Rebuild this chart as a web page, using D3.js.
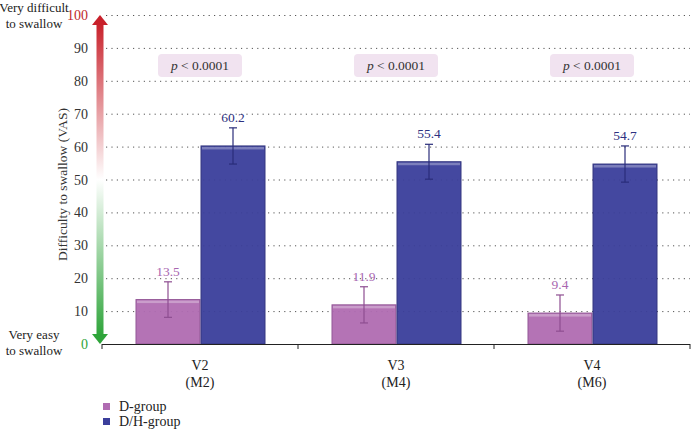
<!DOCTYPE html>
<html><head><meta charset="utf-8">
<script src="https://cdn.jsdelivr.net/npm/d3@7"></script>
<style>body{margin:0;background:#fff}svg{display:block}text{font-family:"Liberation Serif","Times New Roman",Tinos,serif}</style>
</head><body><svg id="c" width="691" height="440"></svg>
<script>
const categories = ["V2", "V3", "V4"];
const subLabels = ["(M2)", "(M4)", "(M6)"];
const series = ["D-group", "D/H-group"];
const dGroup = [13.5, 11.9, 9.4];
const dhGroup = [60.2, 55.4, 54.7];
const dErr = [5.4, 5.5, 5.5];
const dhErr = [5.5, 5.3, 5.5];
const pLabels = ["p < 0.0001", "p < 0.0001", "p < 0.0001"];
const yTicks = [0,10,20,30,40,50,60,70,80,90,100];

const svg = d3.select("#c");
const L = 102, R = 690, T = 15, B = 344;
const x = d3.scaleBand().domain(categories).range([L, R]);
const y = d3.scaleLinear().domain([0, 100]).range([B, T]);
const barW = 64;
const colD = "#b06cb2", colDH = "#3b3f9b";
const colDs = "#8e4e91", colDHs = "#2a2d7a";
const labD = "#a866b0", labDH = "#2c3080";

const defs = svg.append("defs");
const ag = defs.append("linearGradient").attr("id","arr").attr("x1",0).attr("y1",0).attr("x2",0).attr("y2",1);
ag.append("stop").attr("offset","0%").attr("stop-color","#c8202a");
ag.append("stop").attr("offset","50%").attr("stop-color","#ffffff");
ag.append("stop").attr("offset","100%").attr("stop-color","#2ea43a");

// grid
svg.append("g").selectAll("line").data(yTicks.filter(d=>d>0)).join("line")
  .attr("x1", L+4).attr("x2", R).attr("y1", d=>y(d)+0.5).attr("y2", d=>y(d)+0.5)
  .attr("stroke", "#555").attr("stroke-width", 1).attr("stroke-dasharray", "1.2,4.2");

// p boxes
const pg = svg.append("g");
categories.forEach((c,i)=>{
  const cx = x(c) + x.bandwidth()/2;
  pg.append("rect").attr("x", cx-42).attr("y", 54).attr("width", 84).attr("height", 23).attr("rx", 4)
    .attr("fill", "#f1e3f0");
  const t = pg.append("text").attr("x", cx).attr("y", 70).attr("text-anchor","middle")
    .attr("font-size", 13.5).attr("fill", "#333");
  t.append("tspan").attr("font-style","italic").text(pLabels[i].slice(0,1));
  t.append("tspan").text(pLabels[i].slice(1));
});

// bars
const groups = [
  {vals: dGroup, err: dErr, fill: colD, stroke: colDs, lab: labD, off: -barW},
  {vals: dhGroup, err: dhErr, fill: colDH, stroke: colDHs, lab: labDH, off: 1}
];
groups.forEach(g=>{
  categories.forEach((c,i)=>{
    const cx = x(c) + x.bandwidth()/2;
    const bx = cx + g.off;
    const v = g.vals[i];
    svg.append("rect").attr("x", bx).attr("y", y(v)).attr("width", barW).attr("height", y(0)-y(v))
      .attr("fill", g.fill).attr("stroke", g.stroke).attr("stroke-width", 1).attr("opacity", 0.95);
    svg.append("rect").attr("x", bx+1).attr("y", y(v)+1).attr("width", barW-2).attr("height", 2.5)
      .attr("fill", "#fff").attr("opacity", 0.3);
    const ex = bx + barW/2;
    const e = g.err[i];
    svg.append("line").attr("x1", ex).attr("x2", ex).attr("y1", y(v+e)).attr("y2", y(v-e)).attr("stroke", g.stroke).attr("stroke-width",1.2);
    [v+e, v-e].forEach(w=>svg.append("line").attr("x1", ex-4).attr("x2", ex+4).attr("y1", y(w)).attr("y2", y(w)).attr("stroke", g.stroke).attr("stroke-width",1.2));
    svg.append("text").attr("x", ex).attr("y", y(v+e)-6).attr("text-anchor","middle")
      .attr("font-size", 13.5).attr("fill", g.lab).text(v.toFixed(1));
  });
});

// x axis
svg.append("line").attr("x1", L).attr("x2", R).attr("y1", B+0.5).attr("y2", B+0.5).attr("stroke","#222").attr("stroke-width",1.2);
[L, x("V3"), x("V4"), R].forEach(p=>svg.append("line").attr("x1",p).attr("x2",p).attr("y1",B).attr("y2",B+5).attr("stroke","#222"));
categories.forEach((c,i)=>{
  const cx = x(c) + x.bandwidth()/2;
  svg.append("text").attr("x", cx).attr("y", 370).attr("text-anchor","middle").attr("font-size",14).attr("fill","#222").text(c);
  svg.append("text").attr("x", cx).attr("y", 387).attr("text-anchor","middle").attr("font-size",14).attr("fill","#222").text(subLabels[i]);
});

// y axis gradient arrow
const ax = 100;
svg.append("rect").attr("x", ax-3.5).attr("y", T+8).attr("width", 7).attr("height", (B-8)-(T+8)).attr("fill","url(#arr)");
svg.append("path").attr("d", `M${ax-8},${T+10}L${ax},${T}L${ax+8},${T+10}Z`).attr("fill","#c8202a");
svg.append("path").attr("d", `M${ax-8},${B-10}L${ax},${B}L${ax+8},${B-10}Z`).attr("fill","#2ea43a");

svg.append("g").selectAll("text").data(yTicks).join("text")
  .attr("x", 88).attr("y", d=>y(d)+5).attr("text-anchor","end").attr("font-size",14)
  .attr("fill", d=> d===100 ? "#c0282d" : d===0 ? "#2ea43a" : "#333").text(d=>d);

svg.append("text").attr("transform", `translate(67,${(y(0)+y(100))/2+5}) rotate(-90)`)
  .attr("text-anchor","middle").attr("font-size",13.5).attr("fill","#333").text("Difficulty to swallow (VAS)");

const ends = [["Very difficult","to swallow",12],["Very easy","to swallow",339]];
ends.forEach(e=>{
  svg.append("text").attr("x",34).attr("y",e[2]).attr("text-anchor","middle").attr("font-size",13).attr("fill","#222").text(e[0]);
  svg.append("text").attr("x",34).attr("y",e[2]+16).attr("text-anchor","middle").attr("font-size",13).attr("fill","#222").text(e[1]);
});

// legend
const lg = svg.append("g");
series.forEach((s,i)=>{
  const yy = 403 + i*15;
  lg.append("rect").attr("x",103).attr("y",yy).attr("width",7).attr("height",7).attr("fill", i? colDH: colD);
  lg.append("text").attr("x",119).attr("y",yy+7.5).attr("font-size",14).attr("fill","#222").text(s);
});
</script></body></html>
